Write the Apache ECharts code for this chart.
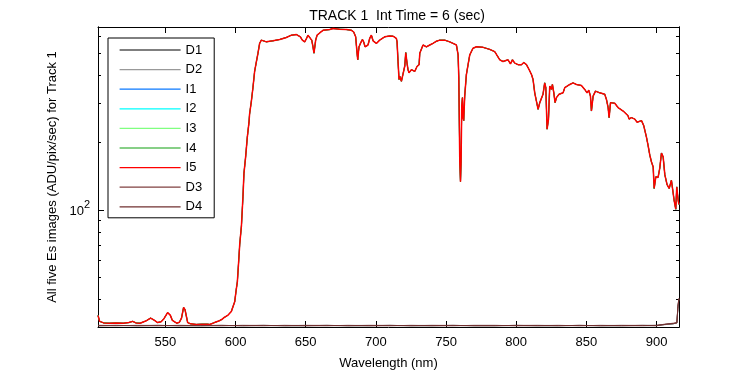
<!DOCTYPE html>
<html>
<head>
<meta charset="utf-8">
<script src="https://cdn.jsdelivr.net/npm/echarts@6/dist/echarts.min.js"></script>
<style>
  html, body { margin: 0; padding: 0; background: #fff; }
  #chart { width: 750px; height: 375px; }
</style>
</head>
<body>
<div id="chart"></div>
<script>
// wavelength grid (nm) for the Es spectra
const waveNm = [
  502.0, 503.2, 506, 510, 515, 520, 524, 526.7, 529, 532,
  536, 539.5, 542, 544.5, 547, 549, 551.6, 553.5, 555, 558.1,
  560, 561.5, 563, 564, 565.9, 568, 572, 576, 580, 581.6,
  585, 588, 590.1, 592, 594.4, 597, 599.4, 600.6, 601.3, 602.2,
  603.0, 604.2, 605.3, 606.0, 607.2, 608.4, 609.6, 610.0, 611.3, 612.4,
  613.6, 614.9, 616.0, 617.2, 618.4, 619.6, 622.0, 626.7, 631.5, 636.2,
  639.8, 643.4, 646.2, 647.6, 649.3, 650.6, 651.6, 652.9, 654.3, 655.2,
  655.9, 656.4, 657.1, 658.1, 660.0, 662.3, 667.1, 669.5, 674.2, 679.0,
  682.6, 684.2, 685.6, 686.1, 686.6, 687.1, 687.6, 688.0, 689.0, 690.4,
  691.3, 692.3, 693.3, 694.4, 695.6, 696.8, 698.0, 700.4, 702.7, 706.3,
  709.9, 712.2, 714.6, 715.1, 715.8, 716.5, 717.0, 718.2, 719.4, 720.6,
  721.3, 722.2, 722.9, 723.6, 724.6, 725.3, 726.5, 727.7, 728.9, 729.3,
  730.8, 731.3, 733.6, 736.0, 738.4, 740.7, 743.2, 745.5, 746.7, 749.1,
  750.3, 752.6, 755.0, 756.2, 757.4, 758.6, 759.1, 759.8, 760.3, 760.7,
  761.2, 761.7, 762.1, 762.6, 763.3, 764.5, 765.7, 766.9, 769.2, 771.7,
  776.4, 781.1, 784.7, 788.3, 790.6, 794.2, 795.9, 796.6, 797.3, 799.0,
  801.3, 803.7, 805.4, 807.3, 809.2, 810.9, 812.0, 813.2, 814.4, 815.6,
  816.8, 818.0, 819.1, 820.3, 821.1, 822.0, 823.0, 823.9, 825.1, 825.8,
  826.8, 827.7, 828.7, 830.5, 833.4, 834.6, 838.2, 840.5, 842.9, 846.5,
  848.8, 850.5, 851.7, 852.9, 853.6, 854.8, 856.5, 859.5, 863.1, 864.3,
  865.5, 866.2, 867.2, 870.2, 872.6, 876.2, 879.7, 880.4, 882.1, 884.5,
  886.1, 889.3, 890.9, 892.8, 894.0, 895.2, 896.4, 897.6, 898.3, 899.5,
  901.1, 902.3, 903.5, 904.7, 905.9, 907.5, 909.0, 910.6, 911.8, 912.5,
  913.7, 914.4, 915.4, 915.9
];

// Es image (I5) in ADU/pix/sec
const esI5 = [
  33.9, 31.9, 31.4, 31.3, 31.4, 31.3, 31.5, 31.9, 31.4, 31.3,
  32.0, 33.0, 32.3, 31.5, 31.8, 32.8, 34.9, 34.0, 32.2, 31.3,
  31.6, 33.0, 36.8, 36.0, 31.5, 31.1, 30.9, 31.0, 31.0, 30.9,
  31.5, 32.0, 32.5, 33.2, 33.9, 35.3, 39.0, 44.7, 47.9, 58.6,
  70.6, 85.0, 115, 146, 173, 212, 247, 268, 307, 352,
  416, 461, 502, 556, 574, 565, 564, 570, 578, 590,
  604, 608, 594, 574, 564, 584, 604, 604, 574, 536,
  502, 510, 574, 604, 618, 635, 640, 647, 642, 640,
  635, 624, 594, 546, 502, 469, 510, 536, 555, 578,
  564, 536, 528, 546, 584, 604, 570, 555, 574, 594,
  599, 598, 584, 564, 461, 383, 396, 376, 370, 440,
  505, 453, 424, 410, 417, 424, 427, 416, 421, 438,
  446, 502, 546, 536, 546, 555, 568, 574, 578, 574,
  564, 564, 555, 555, 546, 493, 389, 164, 134, 162,
  292, 318, 259, 251, 323, 403, 446, 493, 528, 536,
  533, 522, 510, 469, 461, 469, 450, 453, 469, 453,
  446, 446, 456, 446, 424, 403, 383, 334, 307, 282,
  302, 297, 329, 370, 352, 230, 255, 358, 346, 364,
  334, 302, 318, 329, 334, 352, 364, 370, 364, 360,
  346, 334, 343, 323, 277, 323, 340, 334, 329, 312,
  287, 259, 302, 300, 287, 277, 264, 255, 259, 255,
  247, 251, 238, 212, 194, 176, 164, 156, 125, 141,
  140, 154, 180, 173, 144, 130, 125, 136, 134, 111,
  101, 127, 111, 106
];

// dark frames, coarser grid (they sit flat at the floor)
const darkNm = [
  502, 515, 530, 545, 560, 575, 590, 605, 620, 635,
  650, 665, 680, 695, 710, 725, 740, 755, 770, 785,
  800, 815, 830, 845, 860, 875, 890, 900, 906, 912,
  914.5, 915.2, 915.9
];
const darkD1 = [
  30.5, 30.6, 30.5, 30.6, 30.5, 30.5, 30.6, 30.5, 30.6, 30.5,
  30.5, 30.6, 30.5, 30.5, 30.6, 30.5, 30.5, 30.6, 30.5, 30.5,
  30.6, 30.5, 30.5, 30.6, 30.5, 30.5, 30.6, 30.6, 30.9, 31.1,
  31.4, 36.5, 39.8
];
const darkD2 = [
  30.6, 30.5, 30.6, 30.5, 30.6, 30.6, 30.5, 30.6, 30.5, 30.6,
  30.6, 30.5, 30.6, 30.6, 30.5, 30.6, 30.6, 30.5, 30.6, 30.6,
  30.5, 30.6, 30.6, 30.5, 30.6, 30.6, 30.5, 30.5, 30.8, 31.2,
  31.3, 36.8, 40.0
];
const darkD3 = [
  30.5, 30.5, 30.6, 30.6, 30.5, 30.6, 30.6, 30.5, 30.5, 30.6,
  30.5, 30.5, 30.6, 30.5, 30.5, 30.6, 30.5, 30.5, 30.6, 30.6,
  30.5, 30.5, 30.6, 30.5, 30.6, 30.5, 30.5, 30.6, 31.0, 31.3,
  31.5, 37.1, 40.4
];
const darkD4 = [
  30.6, 30.6, 30.5, 30.5, 30.6, 30.5, 30.5, 30.6, 30.6, 30.5,
  30.6, 30.6, 30.5, 30.6, 30.6, 30.5, 30.6, 30.6, 30.5, 30.5,
  30.6, 30.6, 30.5, 30.6, 30.5, 30.6, 30.6, 30.5, 30.9, 31.2,
  31.4, 37.0, 40.3
];

const seriesNames = ['D1', 'D2', 'I1', 'I2', 'I3', 'I4', 'I5', 'D3', 'D4'];
const seriesColors = ['#000000', '#999999', '#0a78ff', '#00ffff', '#80ff80', '#10a010', '#ff0000', '#804040', '#703030'];

// axis ranges and tick marks
const xMin = 502, xMax = 916;
const yMin = 30.1, yMax = 657;
const xTicks = [550, 600, 650, 700, 750, 800, 850, 900];
const yMajorTicks = [100];
const yMinorTicks = [40, 50, 60, 70, 80, 90, 200, 300, 400, 500, 600];

const pairs = (xs, ys) => xs.map((x, i) => [x, ys[i]]);

// the five Es images overlap in the picture; they share the read values
const seriesData = {
  D1: pairs(darkNm, darkD1),
  D2: pairs(darkNm, darkD2),
  I1: pairs(waveNm, esI5),
  I2: pairs(waveNm, esI5),
  I3: pairs(waveNm, esI5),
  I4: pairs(waveNm, esI5),
  I5: pairs(waveNm, esI5),
  D3: pairs(darkNm, darkD3),
  D4: pairs(darkNm, darkD4),
};

const chart = echarts.init(document.getElementById('chart'));

const font = 'Liberation Sans, Arial, Helvetica, sans-serif';
const lg = (v) => Math.log10(v);

// linear axes in log10 space only used to place the tick marks
const tickAxis = (position, values, len, withLabel) => ({
  type: 'value',
  position: position,
  min: lg(yMin),
  max: lg(yMax),
  gridIndex: 0,
  axisLine: { show: true, lineStyle: { color: '#000', width: 1 } },
  axisTick: { show: true, inside: true, length: len, customValues: values.map(lg), lineStyle: { color: '#000' } },
  axisLabel: withLabel ? {
    show: true,
    customValues: values.map(lg),
    margin: 8,
    formatter: (v) => '{b|10}{s|' + Math.round(v) + '}',
    rich: {
      b: { fontSize: 13, fontFamily: font, color: '#000', padding: [3, 0, 0, 0] },
      s: { fontSize: 11, fontFamily: font, color: '#000', padding: [0, 0, 10, 0] },
    },
  } : { show: false },
  splitLine: { show: false },
});

const option = {
  animation: false,
  backgroundColor: '#fff',
  title: {
    text: 'TRACK 1  Int Time = 6 (sec)',
    left: 392,
    textAlign: 'center',
    top: 4,
    textStyle: { fontSize: 14, fontWeight: 'normal', color: '#000', fontFamily: font },
  },
  grid: { left: 98, right: 71, top: 27, bottom: 45 },
  legend: {
    data: seriesNames.map((name, i) => ({
      name: name,
      itemStyle: { opacity: 0 },
      lineStyle: { color: seriesColors[i], width: 1.2 },
    })),
    orient: 'vertical',
    left: 108,
    top: 38,
    itemWidth: 61,
    itemHeight: 14,
    itemGap: 5.6,
    padding: [5, 12, 4, 11],
    backgroundColor: '#fff',
    borderColor: '#000',
    borderWidth: 1,
    borderRadius: 0,
    textStyle: { fontSize: 13, lineHeight: 14, color: '#000', fontFamily: font },
  },
  xAxis: [
    {
      type: 'value',
      min: xMin,
      max: xMax,
      position: 'bottom',
      name: 'Wavelength (nm)',
      nameLocation: 'middle',
      nameGap: 30,
      nameTextStyle: { fontSize: 13, color: '#000', fontFamily: font },
      axisLine: { show: true, lineStyle: { color: '#000', width: 1 } },
      axisTick: { show: true, inside: true, length: 6, customValues: xTicks, lineStyle: { color: '#000' } },
      axisLabel: { show: true, customValues: xTicks, fontSize: 13, color: '#000', fontFamily: font, margin: 9 },
      splitLine: { show: false },
    },
    {
      type: 'value',
      min: xMin,
      max: xMax,
      position: 'top',
      axisLine: { show: true, lineStyle: { color: '#000', width: 1 } },
      axisTick: { show: true, inside: true, length: 6, customValues: xTicks, lineStyle: { color: '#000' } },
      axisLabel: { show: false },
      splitLine: { show: false },
    },
  ],
  yAxis: [
    {
      type: 'log',
      logBase: 10,
      min: yMin,
      max: yMax,
      position: 'left',
      axisLine: { show: false },
      axisTick: { show: false },
      axisLabel: { show: false },
      splitLine: { show: false },
    },
    Object.assign(tickAxis('left', yMajorTicks, 6, true), {
      name: 'All five Es images (ADU/pix/sec) for Track 1',
      nameLocation: 'middle',
      nameGap: 31,
      nameRotate: 90,
      nameTextStyle: { fontSize: 13, color: '#000', fontFamily: font },
    }),
    tickAxis('left', yMinorTicks, 3, false),
    tickAxis('right', yMajorTicks, 6, false),
    tickAxis('right', yMinorTicks, 3, false),
  ],
  series: seriesNames.map((name, i) => ({
    name: name,
    type: 'line',
    xAxisIndex: 0,
    yAxisIndex: 0,
    data: seriesData[name],
    showSymbol: false,
    symbol: 'none',
    lineStyle: { color: seriesColors[i], width: name === 'I5' ? 1.5 : 1 },
    itemStyle: { color: seriesColors[i] },
    emphasis: { disabled: true },
  })),
};

chart.setOption(option);
</script>
</body>
</html>
